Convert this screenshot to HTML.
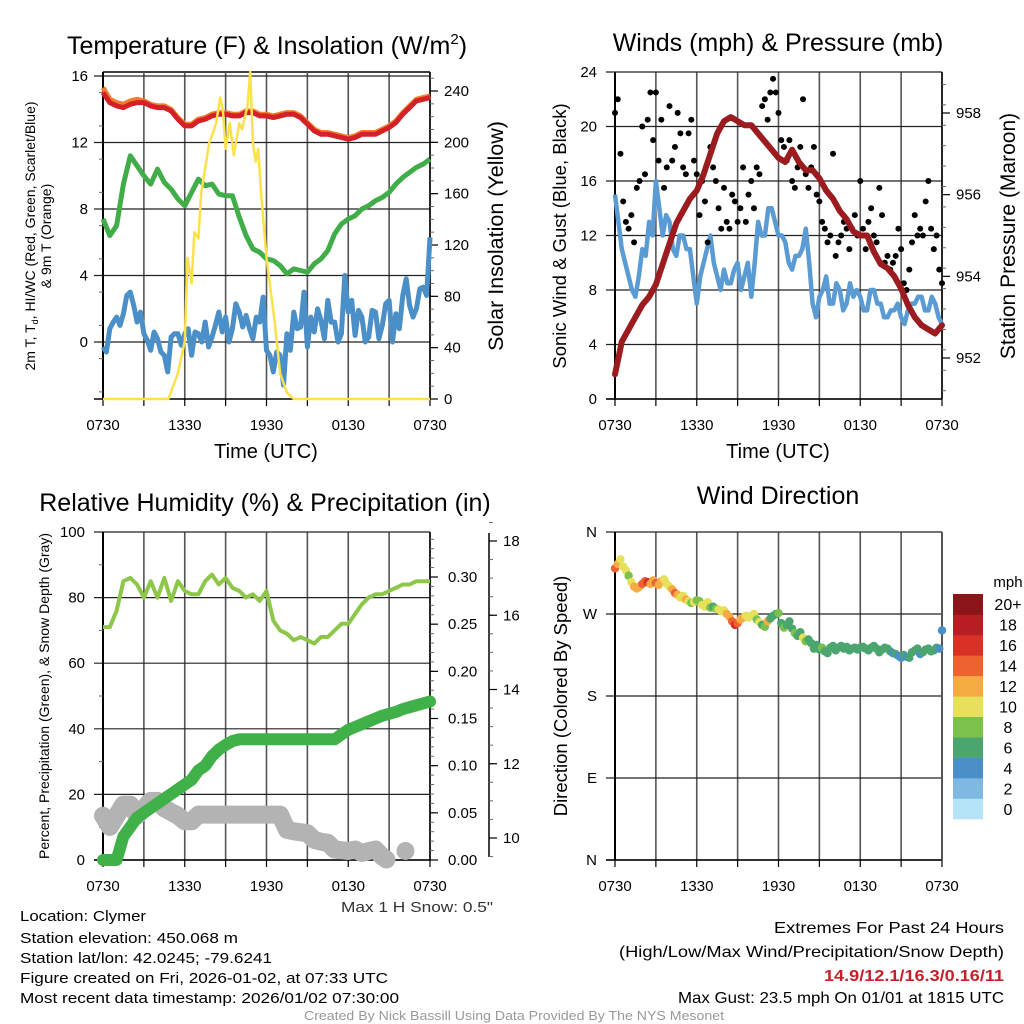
<!DOCTYPE html>
<html><head><meta charset="utf-8"><title>Mesonet Meteogram - Clymer</title>
<style>
html,body{margin:0;padding:0;background:#fff;}
svg{display:block;font-family:"Liberation Sans",Arial,sans-serif;}
</style></head>
<body>
<svg id="chart" xmlns="http://www.w3.org/2000/svg" width="1024" height="1024" viewBox="0 0 1024 1024">
<rect x="0" y="0" width="1024" height="1024" fill="#fff"/>
<g id="layer"></g>
</svg>
<script>
// ---------- Data ----------
const timeTicks = ["0730","1330","1930","0130","0730"];
// Temperature panel (hours 0..24, 0.5h step)
const tempF = [15.0,14.4,14.2,14.1,14.3,14.4,14.4,14.2,14.1,14.1,13.9,13.4,13.0,13.0,13.3,13.4,13.6,13.7,13.7,13.6,13.6,13.8,13.8,13.6,13.6,13.5,13.6,13.7,13.7,13.5,13.1,12.7,12.5,12.5,12.4,12.3,12.2,12.3,12.5,12.5,12.5,12.7,12.9,13.2,13.7,14.1,14.5,14.6,14.7];
const temp9mF = [15.3,14.6,14.4,14.3,14.5,14.6,14.5,14.3,14.2,14.2,14.0,13.5,13.1,13.1,13.4,13.5,13.7,13.8,13.8,13.7,13.7,13.9,13.9,13.7,13.7,13.6,13.7,13.8,13.8,13.6,13.2,12.8,12.6,12.6,12.5,12.4,12.3,12.4,12.6,12.6,12.6,12.8,13.0,13.3,13.8,14.2,14.6,14.7,14.8];
const windChillF = [7.4,6.4,7.0,9.5,11.2,10.6,10.0,9.5,10.4,9.6,9.2,8.6,8.2,9.0,9.8,9.4,9.5,8.9,8.8,8.8,7.5,6.4,5.6,5.4,5.0,4.9,4.6,4.1,4.4,4.3,4.2,4.7,5.0,5.5,6.5,7.1,7.4,7.6,8.0,8.2,8.5,8.7,9.0,9.5,9.9,10.2,10.5,10.7,11.0];
// dew point, 0.25h step
const dewF = [-0.3,-0.6,0.8,1.2,1.5,1.0,1.7,2.8,3.0,2.2,1.2,1.8,0.5,0.1,-0.5,0.6,0.2,-0.6,-0.8,-1.8,0.3,0.5,0.5,-0.2,0.5,0.8,-0.8,0.6,0.5,0.0,1.2,-0.3,0.3,1.0,1.8,0.6,1.5,0.0,0.8,2.3,1.8,0.9,1.6,0.8,0.2,1.5,1.2,2.7,-0.5,-0.8,-1.8,-0.6,-0.8,-2.6,0.5,-0.5,1.8,0.8,0.9,3.0,-0.3,1.5,0.6,2.0,1.3,0.2,2.5,1.2,1.2,0.0,0.5,4.0,1.8,2.5,0.4,1.9,1.5,0.0,0.3,1.9,1.8,0.2,1.0,2.3,2.5,0.0,1.7,0.8,2.8,3.8,2.2,1.5,2.0,3.2,3.3,2.8,6.3];
const solarHours = [0,4.8,5.5,6.0,6.2,6.5,6.7,7.0,7.2,7.5,7.8,8.0,8.3,8.6,8.8,9.0,9.3,9.6,10.0,10.2,10.6,10.8,11.0,11.2,11.4,11.6,12.0,12.3,12.6,13.0,13.5,14.0,24];
const solarWm2 = [0,0,20,45,110,90,130,125,160,180,200,205,215,235,225,195,215,190,215,210,228,255,200,185,195,160,110,85,60,20,5,0,0];
const tempTicks = [0,4,8,12,16];
const solarTicks = [0,40,80,120,160,200,240];
// Winds panel, 0.25h step
const windMph = [15,13,11,10,9,8,7.5,9,11,10.5,13,12,16,14,12,13.5,13,11,10.5,12,12,11,11,9,7,9,10,11,12,10,9,8,9.5,8.5,8.5,9.5,10,8,9,10,7.5,10,13,12,12,14,14,13,12,12,11.5,10,9.5,10.5,10.5,11,12.5,10,7,6,7.5,8,9,7,7,8.5,8,6.5,7,8.5,7.5,8,7.5,6.5,6.5,8,8,7,7,6,6,6.5,6.5,7,6,5.5,6.5,7,7,7.5,7.5,6.5,6.5,7.5,7,6,5.5];
// gusts, 0.2h step
const gustMph = [21,22,18,14.5,13,12.5,13.5,11.5,15.5,16,20,16.5,20.5,22.5,19,22.5,17.5,20.5,15.5,17,21.5,17.5,18.5,21,19.5,17,16.5,19.5,20.5,17.5,16.5,13.5,16,14.5,11.5,18.5,17,16,14,12.5,15.5,13,12.5,15,14.5,13,14,17,13,15,16,14,17,16.5,21.5,22,20.5,22.5,23.5,22.5,21,19,18.5,17.5,19,16,15.5,17,18.5,22,16.5,15.5,17,18.5,15,14.5,13,12.5,11.5,12,18,10.5,11.5,12,13,12.5,11,12.5,13.5,12,16,12.5,11,13,14,12,11.5,15.5,13.5,10,10.5,9.5,10,10.5,12.5,11,8.5,8,9.5,11.5,13.5,12,12.5,12,14.5,16,12.5,11,12,9.5,8.5];
// pressure, 0.5h step
const pressureMb = [951.6,952.4,952.7,953.0,953.3,953.5,953.8,954.3,954.8,955.3,955.6,955.9,956.1,956.5,957.0,957.5,957.8,957.9,957.8,957.7,957.7,957.5,957.3,957.1,956.9,956.8,957.1,956.8,956.6,956.6,956.4,956.1,955.9,955.6,955.4,955.1,955.0,955.0,954.6,954.3,954.2,954.0,953.7,953.3,953.0,952.8,952.7,952.6,952.8];
const windTicks = [0,4,8,12,16,20,24];
const pressTicks = [952,954,956,958];
// RH / precip panel, 0.5h step
const rhPct = [71,71,76,85,86,84,80,85,80,86,79,85,82,81,81,85,87,84,86,83,82,80,81,79,82,73,70,69,67,68,67,66,68,68,70,72,72,75,78,80,81,81,82,83,84,84,85,85,85];
const precipIn = [0,0,0.000,0.025,0.035,0.045,0.05,0.055,0.06,0.065,0.07,0.075,0.08,0.085,0.095,0.1,0.11,0.117,0.122,0.126,0.128,0.128,0.128,0.128,0.128,0.128,0.128,0.128,0.128,0.128,0.128,0.128,0.128,0.128,0.128,0.133,0.138,0.141,0.144,0.147,0.150,0.153,0.155,0.157,0.160,0.162,0.164,0.166,0.168];
const snowHours = [0,0.5,1,1.5,2,2.5,3,3.5,4,4.5,5,5.5,6,6.5,7,13,13.5,14,15,15.5,16,16.5,17,18,18.5,19,19.5,20,20.5,20.8];
const snowDepth = [10.6,10.3,10.6,10.9,10.9,10.6,10.8,11.0,11.0,10.8,10.7,10.6,10.45,10.45,10.63,10.63,10.22,10.18,10.13,9.95,9.9,9.87,9.69,9.65,9.69,9.6,9.65,9.69,9.5,9.42];
const snowIsoHours = [22.2];
const snowIsoDepth = [9.65];
const rhTicks = [0,20,40,60,80,100];
const precipTicks = ["0.00","0.05","0.10","0.15","0.20","0.25","0.30"];
const snowTicks = [10,12,14,16,18];
// Wind direction, 0.2h step
const dirDeg = [320,325,330,322,318,312,305,300,298,300,303,306,305,303,307,304,302,306,308,303,300,297,293,291,288,290,286,284,282,283,285,284,280,278,283,277,278,276,275,273,274,270,267,262,258,260,264,266,268,266,268,270,264,261,258,256,262,265,268,270,271,260,255,258,262,254,249,246,250,244,240,242,238,232,236,231,233,229,227,233,235,230,233,235,232,234,230,232,233,231,233,234,232,230,233,235,232,228,231,233,232,229,227,226,224,222,225,223,222,228,230,232,226,228,231,232,229,230,233,232,252];
const dirSpeed = [14,12,10,11,10,9,10,13,13,12,14,15,17,13,12,14,13,12,10,10,11,12,14,12,11,10,12,10,9,10,8,9,11,10,10,8,7,9,10,10,11,13,12,14,17,15,12,13,11,10,10,10,8,10,7,9,12,7,7,6,8,7,8,6,7,7,8,7,7,10,8,6,7,7,6,7,8,7,6,7,6,7,6,7,6,7,7,6,7,7,6,6,7,7,6,7,7,6,7,7,6,6,5,6,5,4,7,5,6,6,7,7,5,6,7,7,6,7,6,5,4];
const dirTickLabels = ["N","W","S","E","N"];
const speedBinLabels = ["0","2","4","6","8","10","12","14","16","18","20+"];
const speedBinColors = ["#b5e3f7","#7fb9e2","#4a8fc5","#4ba56f","#7cc14b","#e6e05b","#f6aa43","#ee6231","#da3127","#b91d24","#8c1519"];

// ---------- Helpers ----------
const NS = "http://www.w3.org/2000/svg";
const layer = document.getElementById("layer");
function mk(tag, attrs, parent) {
  const el = document.createElementNS(NS, tag);
  for (const k in attrs) el.setAttribute(k, attrs[k]);
  (parent || layer).appendChild(el);
  return el;
}
function txt(s, x, y, size, anchor, parent, extra) {
  const a = {x: x, y: y, "font-size": size, "text-anchor": anchor || "middle", fill: "#000"};
  if (extra) for (const k in extra) a[k] = extra[k];
  const t = mk("text", a, parent);
  t.textContent = s;
  return t;
}
function lin(d0, d1, p0, p1) { return v => p0 + (v - d0) / (d1 - d0) * (p1 - p0); }
function pathFrom(xs, ys) { let d = ""; for (let i = 0; i < xs.length; i++) d += (i ? "L" : "M") + xs[i].toFixed(1) + " " + ys[i].toFixed(1); return d; }
function hoursFor(arr) { const step = 24 / (arr.length - 1); return arr.map((_, i) => i * step); }

function panelFrame(g, L, R, T, B, xS, gridYs) {
  for (let h = 0; h <= 24; h += 3) {
    const l = mk("line", {x1: xS(h), x2: xS(h), y1: T, y2: B, stroke: "#555", "stroke-width": 1.6}, g);
    
    
  }
  gridYs.forEach(y => {
    const l = mk("line", {x1: L - 9, x2: R, y1: y, y2: y, stroke: "#222", "stroke-width": 1.2}, g);
    
    
  });
  const ax = mk("line", {x1: L, x2: L, y1: T, y2: B, stroke: "#000", "stroke-width": 2}, g);
  
  
  const bx = mk("line", {x1: L - 9, x2: R, y1: B, y2: B, stroke: "#000", "stroke-width": 1.5}, g);
  
  
  for (let h = 0; h <= 24; h += 3) {
    const t = mk("line", {x1: xS(h), x2: xS(h), y1: B, y2: B + 7, stroke: "#000", "stroke-width": 1.2}, g);
    
    
  }
  timeTicks.forEach((s, i) => {
    const t = txt(s, xS(i * 6), B + 31, 15, "middle", g);
    
    
  });
}
function rightAxis(g, X, T, B, majorYs, minorYs, labels, size, dx) {
  const a = mk("line", {x1: X, x2: X, y1: T, y2: B, stroke: "#000", "stroke-width": 1.5}, g);
  
  
  minorYs.forEach(y => {
    const t = mk("line", {x1: X, x2: X + 4, y1: y, y2: y, stroke: "#666", "stroke-width": 1}, g);
    
    
  });
  majorYs.forEach((y, i) => {
    const t = mk("line", {x1: X, x2: X + 8, y1: y, y2: y, stroke: "#000", "stroke-width": 1.2}, g);
    
    
    const l = txt(labels[i], X + (dx || 12), y + 5, size || 15, "start", g);
    
    
  });
}

// ================= Panel 1: Temperature =================
(function () {
  const g = mk("g", {});
  
  
  const L = 103, R = 430, T = 72, B = 399;
  const xS = lin(0, 24, L, R);
  const yT = lin(0, 16, 342, 76);
  const yS = lin(0, 240, 399, 91);
  const ttl = txt("", 267, 54, 25, "middle", g);
  ttl.innerHTML = 'Temperature (F) &amp; Insolation (W/m<tspan font-size="15" dy="-10">2</tspan><tspan dy="10">)</tspan>';
  
  
  const top = mk("line", {x1: L, x2: R, y1: T, y2: T, stroke: "#000", "stroke-width": 1.5}, g);
  
  
  panelFrame(g, L, R, T, B, xS, tempTicks.map(yT));
  const minT = []; for (let v = -3; v <= 16; v += 2) minT.push(yT(v));
  minT.forEach(y => {
    const t = mk("line", {x1: L - 4, x2: L, y1: y, y2: y, stroke: "#666", "stroke-width": 1}, g);
    
    
  });
  tempTicks.forEach(v => {
    const l = txt(String(v), 88, yT(v) + 5, 15, "end", g);
    
    
  });
  const minS = []; for (let v = 0; v <= 250; v += 10) minS.push(yS(v));
  rightAxis(g, R, T, B, solarTicks.map(yS), minS, solarTicks.map(String), 15, 14);
  const h05 = hoursFor(tempF);
  const o = mk("path", {d: pathFrom(h05.map(xS), temp9mF.map(yT)), fill: "none", stroke: "#f37b2a", "stroke-width": 5, "stroke-linejoin": "round"}, g);
  
  
  const r = mk("path", {d: pathFrom(h05.map(xS), tempF.map(yT)), fill: "none", stroke: "#d42027", "stroke-width": 5, "stroke-linejoin": "round"}, g);
  
  
  const gr = mk("path", {d: pathFrom(hoursFor(windChillF).map(xS), windChillF.map(yT)), fill: "none", stroke: "#41ad49", "stroke-width": 5, "stroke-linejoin": "round"}, g);
  
  
  const bl = mk("path", {d: pathFrom(hoursFor(dewF).map(xS), dewF.map(yT)), fill: "none", stroke: "#4a8fc7", "stroke-width": 5, "stroke-linejoin": "round"}, g);
  
  
  const ye = mk("path", {d: pathFrom(solarHours.map(xS), solarWm2.map(yS)), fill: "none", stroke: "#fbe14b", "stroke-width": 2.5, "stroke-linejoin": "round"}, g);
  
  
  const yl = txt("", 0, 0, 14, "middle", g, {transform: "translate(35,236) rotate(-90)"});
  yl.innerHTML = '<tspan x="0" y="0">2m T, T<tspan font-size="9" dy="3">d</tspan><tspan dy="-3">, HI/WC (Red, Green, Scarlet/Blue)</tspan></tspan><tspan x="0" y="16">&amp; 9m T (Orange)</tspan>';
  
  
  const yr = txt("Solar Insolation (Yellow)", 0, 0, 21.5, "middle", g, {transform: "translate(503,236) rotate(-90)"});
  
  
  const xt = txt("Time (UTC)", 266, 458, 20, "middle", g);
  
  
})();

// ================= Panel 2: Winds =================
(function () {
  const g = mk("g", {});
  
  
  const L = 615, R = 942, T = 72, B = 399;
  const xS = lin(0, 24, L, R);
  const yW = lin(0, 24, 399, 72);
  const yP = lin(952, 958, 358, 113);
  const ttl = txt("Winds (mph) & Pressure (mb)", 778, 51, 25, "middle", g);
  
  
  panelFrame(g, L, R, T, B, xS, windTicks.map(yW));
  windTicks.forEach(v => {
    const l = txt(String(v), 597, yW(v) + 5, 15, "end", g);
    
    
  });
  const minP = []; for (let v = 951.2; v <= 959; v += 0.5) minP.push(yP(v));
  rightAxis(g, R, T, B, pressTicks.map(yP), minP, pressTicks.map(String), 15, 14);
  const wb = mk("path", {d: pathFrom(hoursFor(windMph).map(xS), windMph.map(yW)), fill: "none", stroke: "#5b9bd3", "stroke-width": 4.5, "stroke-linejoin": "round"}, g);
  
  
  const gh = hoursFor(gustMph);
  gustMph.forEach((v, i) => {
    const c = mk("circle", {cx: xS(gh[i]), cy: yW(v), r: 3, fill: "#000"}, g);
    
    
  });
  const pr = mk("path", {d: pathFrom(hoursFor(pressureMb).map(xS), pressureMb.map(yP)), fill: "none", stroke: "#9b1b1e", "stroke-width": 6, "stroke-linejoin": "round", "stroke-linecap": "round"}, g);
  
  
  const yl = txt("Sonic Wind & Gust (Blue, Black)", 0, 0, 18.5, "middle", g, {transform: "translate(566,236) rotate(-90)"});
  
  
  const yr = txt("Station Pressure (Maroon)", 0, 0, 21, "middle", g, {transform: "translate(1015,236) rotate(-90)"});
  
  
  const xt = txt("Time (UTC)", 778, 458, 20, "middle", g);
  
  
})();

// ================= Panel 3: RH & Precip =================
(function () {
  const g = mk("g", {});
  
  
  const L = 103, R = 430, T = 532, B = 860;
  const xS = lin(0, 24, L, R);
  const yR = lin(0, 100, 860, 532);
  const yPr = lin(0, 0.30, 860, 577);
  const ySn = lin(10, 18, 838, 541);
  const ttl = txt("Relative Humidity (%) & Precipitation (in)", 265, 511, 25, "middle", g);
  
  
  panelFrame(g, L, R, T, B, xS, rhTicks.map(yR));
  const minR = []; for (let v = 10; v <= 90; v += 20) minR.push(yR(v));
  minR.forEach(y => {
    const t = mk("line", {x1: L - 4, x2: L, y1: y, y2: y, stroke: "#666", "stroke-width": 1}, g);
    
    
  });
  rhTicks.forEach(v => {
    const l = txt(String(v), 85, yR(v) + 5, 15, "end", g);
    
    
  });
  const minPr = []; for (let v = 0; v <= 0.345; v += 0.01) minPr.push(yPr(v));
  rightAxis(g, R, T, B, precipTicks.map(s => yPr(parseFloat(s))), minPr, precipTicks, 15, 18);
  const minSn = []; for (let v = 9.5; v <= 18.5; v += 0.5) minSn.push(ySn(v));
  rightAxis(g, 489, 533, 857, snowTicks.map(ySn), minSn, snowTicks.map(String), 15, 14);
  const sn = mk("path", {d: pathFrom(snowHours.map(xS), snowDepth.map(ySn)), fill: "none", stroke: "#b3b3b3", "stroke-width": 18, "stroke-linejoin": "round", "stroke-linecap": "round"}, g);
  
  
  snowIsoHours.forEach((h, i) => {
    const c = mk("circle", {cx: xS(h), cy: ySn(snowIsoDepth[i]), r: 9, fill: "#b3b3b3"}, g);
    
    
  });
  const pc = mk("path", {d: pathFrom(hoursFor(precipIn).map(xS), precipIn.map(yPr)), fill: "none", stroke: "#3fb148", "stroke-width": 12, "stroke-linejoin": "round", "stroke-linecap": "round"}, g);
  
  
  const rh = mk("path", {d: pathFrom(hoursFor(rhPct).map(xS), rhPct.map(yR)), fill: "none", stroke: "#8dc74a", "stroke-width": 4, "stroke-linejoin": "round"}, g);
  
  
  const yl = txt("Percent, Precipitation (Green), & Snow Depth (Gray)", 0, 0, 14, "middle", g, {transform: "translate(49,696) rotate(-90)"});
  
  
  const sm = txt("Max 1 H Snow: 0.5\"", 417, 912, 15, "middle", g, {fill: "#333", textLength: 152, lengthAdjust: "spacingAndGlyphs"});
  
  
})();

// ================= Panel 4: Wind Direction =================
(function () {
  const g = mk("g", {});
  
  
  const L = 615, R = 942, T = 532, B = 860;
  const xS = lin(0, 24, L, R);
  const yD = lin(360, 0, 532, 860);
  const ttl = txt("Wind Direction", 778, 504, 25, "middle", g);
  
  
  panelFrame(g, L, R, T, B, xS, [360, 270, 180, 90, 0].map(yD));
  dirTickLabels.forEach((s, i) => {
    const l = txt(s, 597, yD(360 - i * 90) + 5, 15, "end", g);
    
    
  });
  const rb = mk("line", {x1: R, x2: R, y1: T, y2: B, stroke: "#555", "stroke-width": 2}, g);
  
  
  const dh = hoursFor(dirDeg);
  function colorFor(s) { let k = Math.floor(s / 2); if (k > 10) k = 10; if (k < 0) k = 0; return speedBinColors[k]; }
  dirDeg.forEach((d, i) => {
    const c = mk("circle", {cx: xS(dh[i]), cy: yD(d), r: 4.2, fill: colorFor(dirSpeed[i])}, g);
    
    
  });
  const cbTop = 594, cbBot = 819, bh = (cbBot - cbTop) / speedBinColors.length;
  speedBinColors.forEach((col, i) => {
    const y = cbBot - (i + 1) * bh;
    const r = mk("rect", {x: 953, y: y, width: 30, height: bh + 0.3, fill: col}, g);
    
    
    const l = txt(speedBinLabels[i], 1008, y + bh / 2 + 6, 16, "middle", g);
    
    
  });
  const u = txt("mph", 1008, 587, 15, "middle", g);
  
  
  const yl = txt("Direction (Colored By Speed)", 0, 0, 18.5, "middle", g, {transform: "translate(567,696) rotate(-90)"});
  
  
})();

// ================= Footer text =================
(function () {
  const g = mk("g", {});
  
  
  const left = [
    ["Location: Clymer", 921, 126],
    ["Station elevation: 450.068 m", 943, 218],
    ["Station lat/lon: 42.0245; -79.6241", 963, 252],
    ["Figure created on Fri, 2026-01-02, at 07:33 UTC", 983, 368],
    ["Most recent data timestamp: 2026/01/02 07:30:00", 1003, 379]
  ];
  left.forEach(r => {
    const t = txt(r[0], 20, r[1], 15, "start", g, {textLength: r[2], lengthAdjust: "spacingAndGlyphs"});
    
    
  });
  const e1 = txt("Extremes For Past 24 Hours", 1004, 933, 16, "end", g, {textLength: 230, lengthAdjust: "spacingAndGlyphs"});
  
  
  const e2 = txt("(High/Low/Max Wind/Precipitation/Snow Depth)", 1004, 957, 16, "end", g, {textLength: 385, lengthAdjust: "spacingAndGlyphs"});
  
  
  const e3 = txt("14.9/12.1/16.3/0.16/11", 1004, 981, 16, "end", g, {fill: "#c8202a", "font-weight": "bold", textLength: 180, lengthAdjust: "spacingAndGlyphs"});
  
  
  const e4 = txt("Max Gust: 23.5 mph On 01/01 at 1815 UTC", 1004, 1003, 16, "end", g, {textLength: 326, lengthAdjust: "spacingAndGlyphs"});
  
  
  const c = txt("Created By Nick Bassill Using Data Provided By The NYS Mesonet", 514, 1020, 13, "middle", g, {fill: "#999", textLength: 420, lengthAdjust: "spacingAndGlyphs"});
  
  
})();
</script>
</body></html>
